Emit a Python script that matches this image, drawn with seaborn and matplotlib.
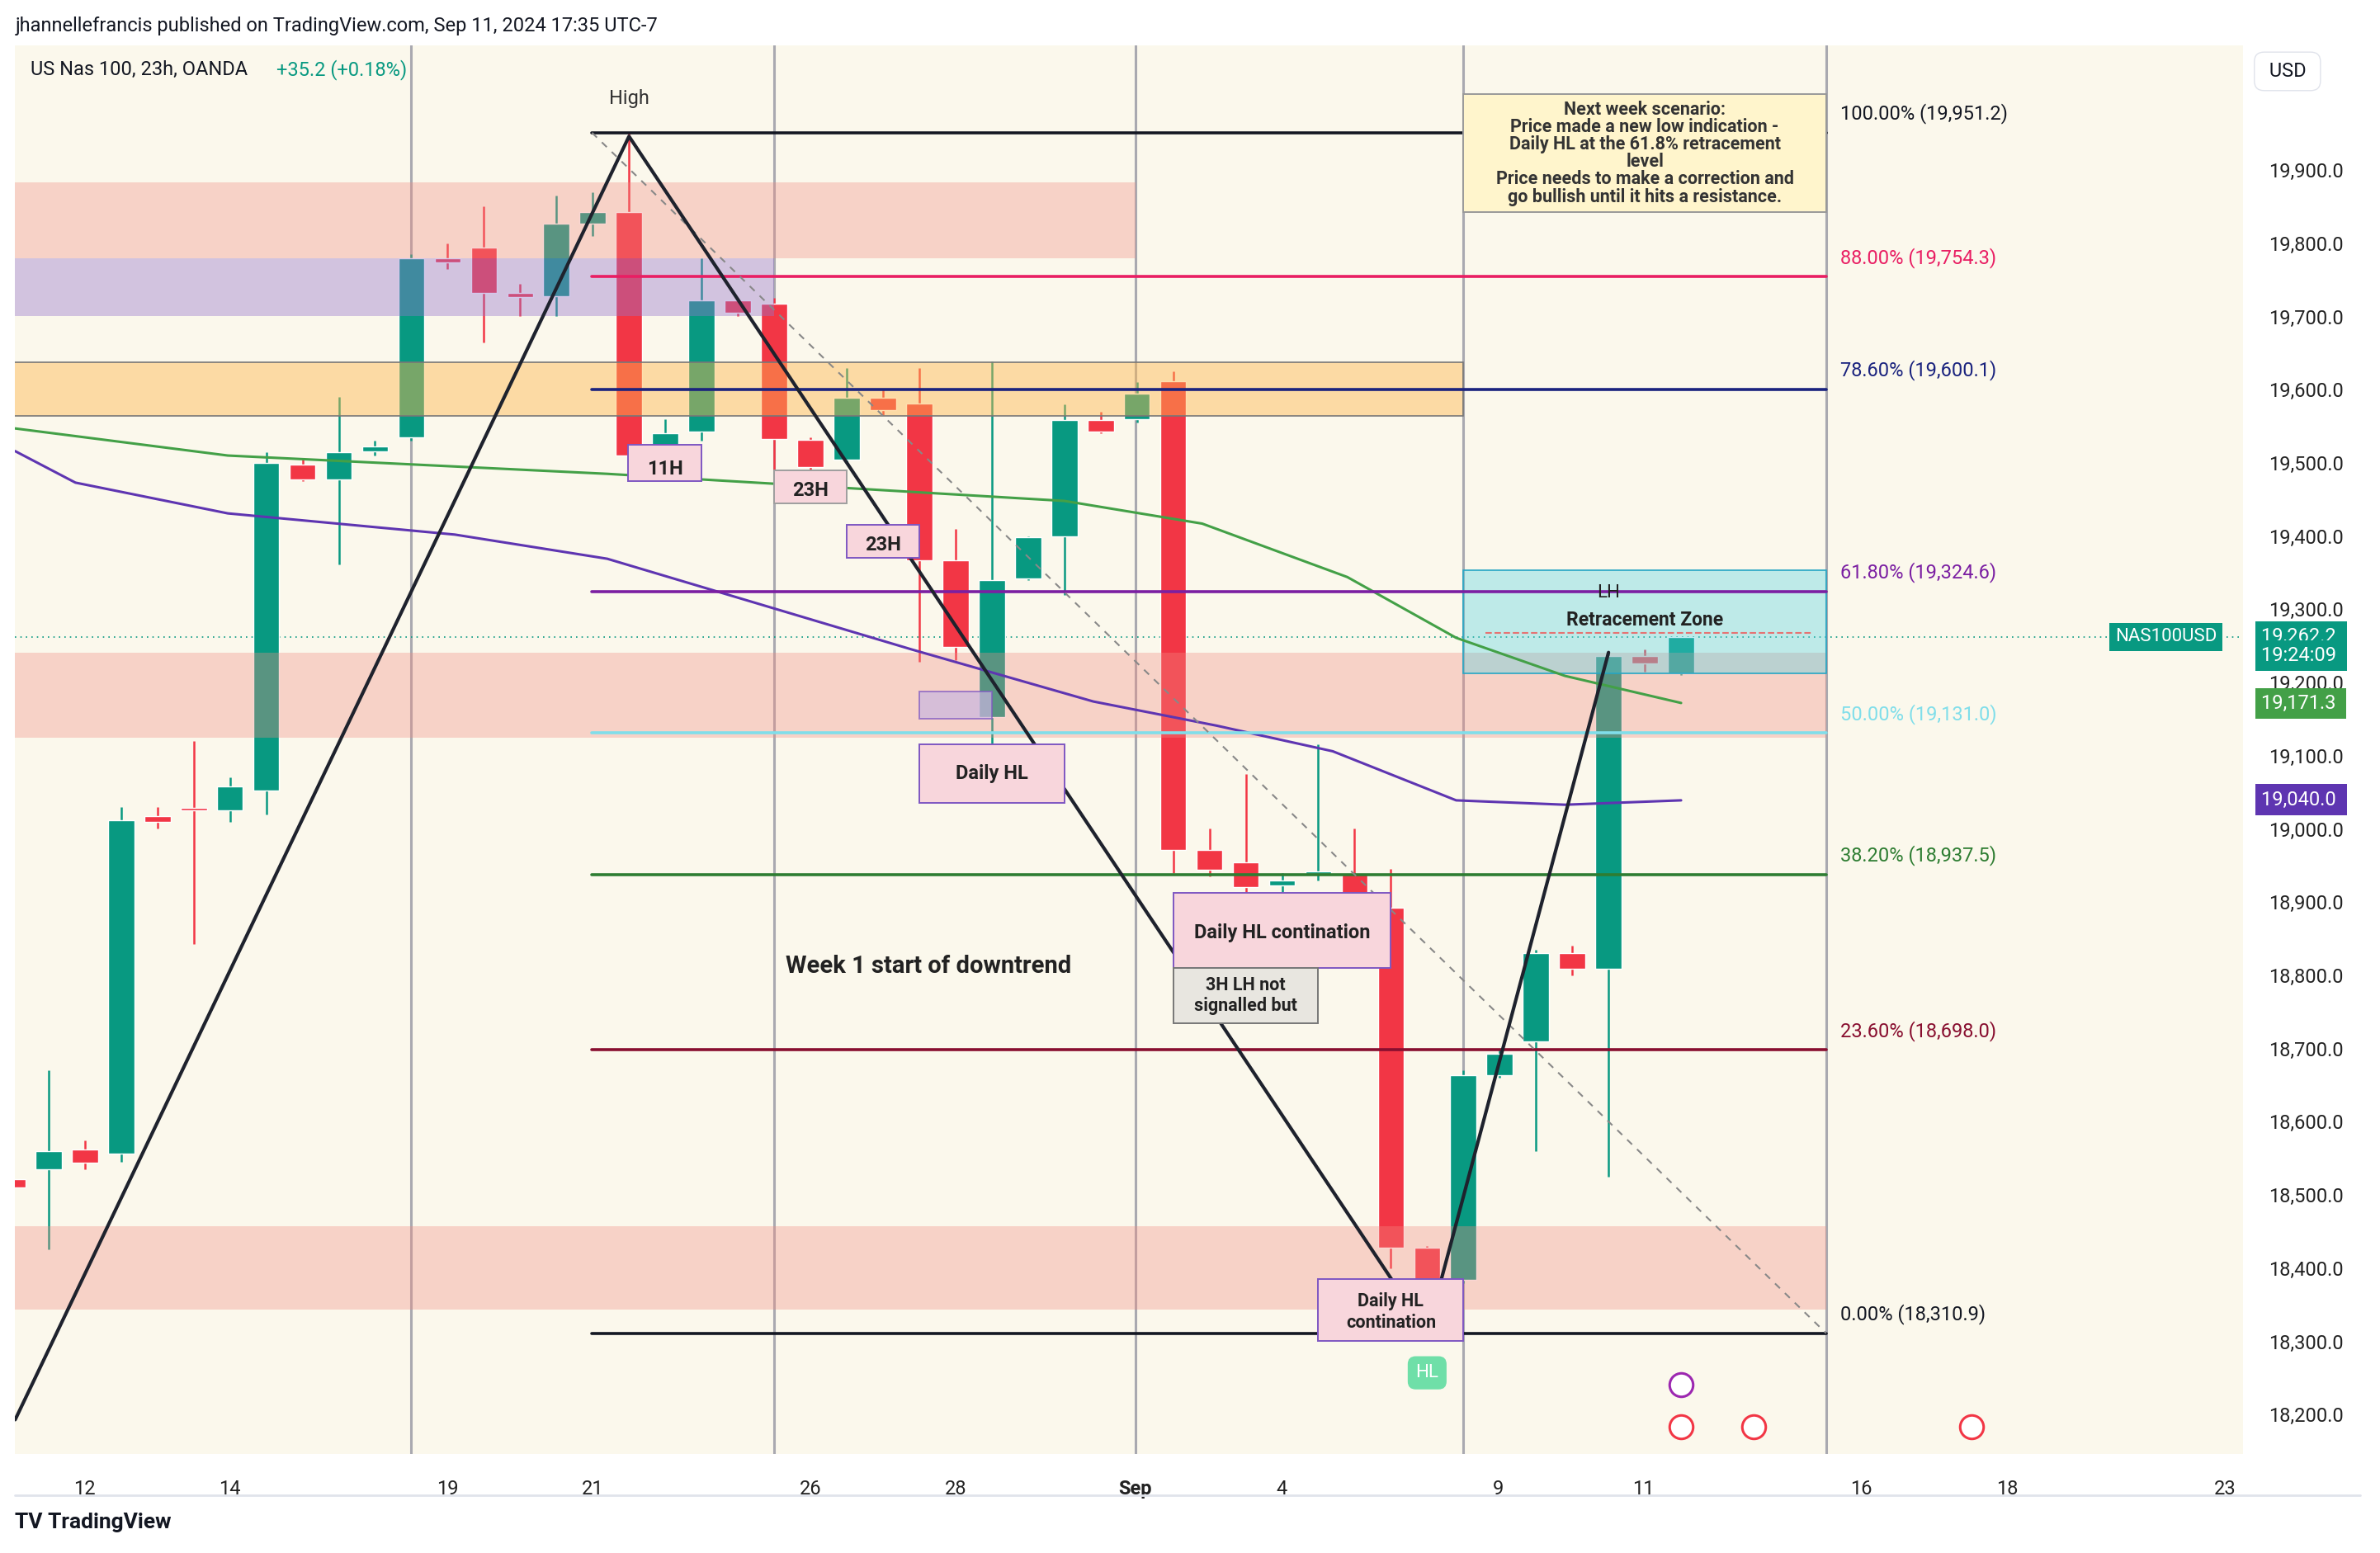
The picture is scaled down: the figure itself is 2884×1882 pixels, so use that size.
import numpy as np
import pandas as pd
import matplotlib
matplotlib.use("Agg")
import matplotlib.pyplot as plt
import matplotlib.transforms as mtrans
from matplotlib.patches import Rectangle
import seaborn as sns

sns.set_theme(style="white", font="Roboto")

# ---------------- data ----------------
opens  = [18522,18535,18562,18556,19017,19029,19025,19052,19498,19477,19516,19535,19780,19794,19732,19728,19827,19842,
          19510,19543,19722,19718,19531,19504,19589,19581,19367,19153,19342,19400,19558,19560,19612,18971,18954,18923,
          18938,18938,18892,18428,18384,18664,18710,18830,18809,19236,19212]
highs  = [18525,18670,18575,19030,19030,19120,19070,19515,19505,19590,19530,19785,19800,19850,19745,19865,19870,19951,
          19560,19780,19725,19725,19535,19630,19600,19630,19410,19639,19400,19580,19570,19610,19625,19000,19075,18940,
          19116,19000,18945,18430,18670,18700,18835,18840,19240,19245,19262]
lows   = [18505,18426,18535,18545,19000,18843,19010,19020,19475,19361,19510,19530,19765,19664,19700,19700,19810,19500,
          19500,19530,19700,19490,19490,19500,19565,19228,19230,19095,19340,19319,19540,19555,18940,18935,18791,18880,
          18930,18870,18400,18311,18380,18660,18560,18800,18525,19215,19210]
closes = [18510,18560,18544,19012,19010,19025,19058,19500,19477,19514,19523,19780,19774,19732,19726,19827,19842,19510,
          19541,19722,19705,19533,19494,19589,19572,19367,19249,19340,19398,19558,19543,19595,18971,18944,18921,18930,
          18942,18888,18428,18349,18664,18693,18830,18809,19236,19226,19262]
candle_t = -1 + 0.5 * np.arange(len(opens))  # trading-day index

ma_green_t = [-0.96, 1.97, 7.2, 13.5, 15.4, 17.4, 18.9, 20.4, 22.0]
ma_green   = [19547, 19510, 19485, 19448, 19417, 19344, 19261, 19209, 19172]
ma_purple_t = [-0.96, -0.13, 1.97, 5.1, 7.2, 9.3, 11.4, 13.9, 15.6, 17.2, 18.9, 20.4, 22.0]
ma_purple   = [19516, 19473, 19431, 19402, 19369, 19307, 19245, 19174, 19141, 19106, 19039, 19033, 19039]

fib_pct    = ["100.00%", "88.00%", "78.60%", "61.80%", "50.00%", "38.20%", "23.60%", "0.00%"]
fib_price  = [19951.2, 19754.3, 19600.1, 19324.6, 19131.0, 18937.5, 18698.0, 18310.9]
fib_colors = ["#131722", "#e91e63", "#1a237e", "#7b1fa2", "#80deea", "#2e7d32", "#880e2f", "#131722"]

zigzag_t = [-0.96, 7.5, 18.5, 21.0]
zigzag_p = [18193, 19946, 18312, 19241]

event_t = [22.0, 23.0, 26.0]

date_ticks = [0, 2, 5, 7, 10, 12, 14.48, 16.5, 19.48, 21.48, 24.48, 26.5, 29.5]
date_labels = ["12", "14", "19", "21", "26", "28", "Sep", "4", "9", "11", "16", "18", "23"]
price_ticks = list(range(18200, 20000, 100))

UP, DN = "#089981", "#f23645"
BG = "#fbf8ec"

# ---------------- figure ----------------
fig = plt.figure(figsize=(28.84, 18.82), dpi=100)
fig.patch.set_facecolor("white")
L, R, T, B = 10/1568, 1478/1568, 1 - 30/1023, 1 - 958/1023
ax = fig.add_axes([L, B, R - L, T - B])
ax.set_facecolor(BG)
ymax, ymin = 19900 + 2.0737 * 82, 19900 - 2.0737 * (958 - 112)
ax.set_ylim(ymin, ymax)
ax.set_xlim(-0.96, 29.75)

for v in [4.5, 9.5, 14.48, 19.0, 24.0]:
    ax.axvline(v, color="#a9a9b0", lw=2.2, zorder=1)

for t, o, h, l, c in zip(candle_t, opens, highs, lows, closes):
    col = UP if c >= o else DN
    ax.vlines(t, l, h, color=col, lw=1.8, zorder=3)
    ax.bar(t, abs(c - o) if abs(c - o) > 3 else 3, bottom=min(o, c), width=0.36, color=col, zorder=3)

def zone(t0, t1, p0, p1, fc, ec=None, alpha=0.35):
    ax.add_patch(Rectangle((t0, p0), t1 - t0, p1 - p0, facecolor=fc, alpha=alpha,
                           edgecolor="none", zorder=4))
    if ec:
        ax.add_patch(Rectangle((t0, p0), t1 - t0, p1 - p0, facecolor="none",
                               edgecolor=ec, lw=1.2, zorder=4))
zone(-1, 14.48, 19780, 19883, "#f28b82")
zone(-1, 9.5, 19701, 19780, "#9575cd", alpha=0.4)
zone(-1, 19.0, 19564, 19637, "#ffb74d", ec="#777", alpha=0.45)
zone(-1, 24.0, 19124, 19241, "#f28b82")
zone(-1, 24.0, 18343, 18457, "#f28b82")
zone(19.0, 24.0, 19212, 19353, "#4dd0e1", ec="#26a6c4", alpha=0.35)
ax.plot([19.3, 23.8], [19268, 19268], ls="--", color="#e57373", lw=1.5, zorder=5)

sns.lineplot(x=ma_green_t, y=ma_green, ax=ax, color="#43a047", lw=2.2, zorder=5)
sns.lineplot(x=ma_purple_t, y=ma_purple, ax=ax, color="#5e35b1", lw=2.2, zorder=5)

for pct, p, c in zip(fib_pct, fib_price, fib_colors):
    ax.plot([6.99, 24.0], [p, p], color=c, lw=2.6, zorder=6)
    ax.text(24.2, p + 12, f"{pct} ({p:,.1f})", color=c, fontsize=17, va="bottom", zorder=7)

ax.plot([6.99, 24.0], [19951, 18311], ls=(0, (4, 4)), color="#888", lw=1.5, zorder=6)
sns.lineplot(x=zigzag_t, y=zigzag_p, ax=ax, color="#1e222d", lw=3, zorder=7, sort=False)

def rbox(t0, t1, p0, p1, fc, ec, alpha=1.0):
    ax.add_patch(Rectangle((t0, p0), t1 - t0, p1 - p0, fc=fc, ec=ec, lw=1.4, alpha=alpha, zorder=8))
def label(x, y, s, fs=17, weight="bold", color="#222"):
    ax.text(x, y, s, fontsize=fs, ha="center", va="center", weight=weight, color=color, zorder=9)

ax.text(7.5, 19985, "High", fontsize=17, ha="center", va="bottom", color="#333")
rbox(7.49, 8.5, 19475, 19525, "#f8d6dc", "#7e57c2"); label(8.0, 19492, "11H")
rbox(9.5, 10.5, 19445, 19490, "#f8d6dc", "#9e9e9e"); label(10.0, 19462, "23H")
rbox(10.5, 11.5, 19370, 19415, "#f8d6dc", "#7e57c2"); label(11.0, 19388, "23H")
rbox(11.5, 12.5, 19150, 19188, "#c9b6e0", "#7e57c2", alpha=0.7)
rbox(11.5, 13.5, 19035, 19115, "#f8d6dc", "#7e57c2"); label(12.5, 19075, "Daily HL")
rbox(15.0, 18.0, 18810, 18913, "#f8d6dc", "#7e57c2"); label(16.5, 18858, "Daily HL contination")
rbox(15.0, 17.0, 18735, 18810, "#e8e6e0", "#777")
label(16.0, 18772, "3H LH not\nsignalled but", fs=15.5)
label(11.63, 18812, "Week 1 start of downtrend", fs=21)
rbox(17.0, 19.0, 18300, 18385, "#f8d6dc", "#7e57c2")
label(18.0, 18340, "Daily HL\ncontination", fs=15.5)
ax.text(18.5, 18257, "HL", fontsize=16, ha="center", va="center", color="white", zorder=9,
        bbox=dict(boxstyle="round,pad=0.4", fc="#6fdfa8", ec="#6fdfa8"))
label(21.0, 19322, "LH", fs=16, weight="normal")
label(21.5, 19285, "Retracement Zone", fs=16.5)
rbox(19.0, 24.0, 19842, 20004, "#fff5cc", "#999")
ax.text(21.5, 19923, "Next week scenario:\nPrice made a new low indication -\nDaily HL at the 61.8% retracement\n"
        "level\nPrice needs to make a correction and\ngo bullish until it hits a resistance.",
        fontsize=15.5, weight="bold", color="#333", ha="center", va="center", zorder=9, linespacing=0.95)
for tx in event_t:
    ax.scatter(tx, 18183, s=420, fc="white", ec="#f23645", lw=2.2, zorder=9)
ax.scatter(event_t[0], 18241, s=420, fc="white", ec="#9c27b0", lw=2.2, zorder=9)

ax.axhline(19262.2, color="#089981", ls=(0, (1, 3)), lw=1.2, zorder=2)

ax.set_xticks(date_ticks)
ax.set_xticklabels(date_labels, fontsize=17, color="#222")
for lab in ax.get_xticklabels():
    if lab.get_text() == "Sep":
        lab.set_fontweight("bold")
ax.yaxis.tick_right()
ax.set_yticks(price_ticks)
ax.set_yticklabels([f"{p:,.1f}" for p in price_ticks], fontsize=17, color="#222")
ax.tick_params(length=0, pad=22)
for s in ax.spines.values():
    s.set_visible(False)

tr = mtrans.blended_transform_factory(ax.transAxes, ax.transData)
def badge(y, s, fc, x=1.008, fs=17):
    ax.text(x, y, s, transform=tr, fontsize=fs, color="white", va="center", ha="left",
            bbox=dict(boxstyle="square,pad=0.3", fc=fc, ec="none"), zorder=10, clip_on=False)
badge(19262.2, "19,262.2 ", UP)
badge(19237, "19:24:09 ", UP)
badge(19171.3, "19,171.3 ", "#43a047")
badge(19040.0, "19,040.0 ", "#5e35b1")
ax.text(0.988, 19262.2, "NAS100USD", transform=tr, fontsize=16, color="white", va="center", ha="right",
        bbox=dict(boxstyle="square,pad=0.3", fc=UP, ec="none"), zorder=10, clip_on=False)

fig.text(10/1568, 1 - 17/1023, "jhannellefrancis published on TradingView.com, Sep 11, 2024 17:35 UTC-7",
         fontsize=17, color="#131722", va="center")
fig.text(20/1568, 1 - 46/1023, "US Nas 100, 23h, OANDA", fontsize=17, color="#131722", va="center")
fig.text(182/1568, 1 - 46/1023, "+35.2 (+0.18%)", fontsize=17, color="#089981", va="center")
fig.text(1507/1568, 1 - 47/1023, " USD ", fontsize=17, color="#131722", va="center", ha="center",
         bbox=dict(boxstyle="round,pad=0.5", fc="white", ec="#e0e3eb"))
fig.text(10/1568, 1 - 1003/1023, "TV TradingView", fontsize=19, weight="bold", color="#131722", va="center")
fig.add_artist(plt.Line2D([10/1568, 1555/1568], [1 - 985/1023] * 2, color="#e0e3eb", lw=2))

fig.savefig("out.png", dpi=100, facecolor="white")
